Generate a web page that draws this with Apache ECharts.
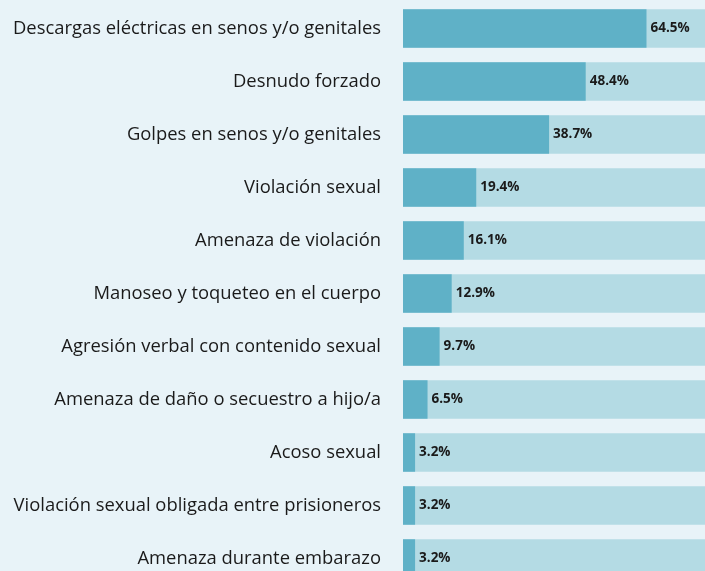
<!DOCTYPE html>
<html>
<head>
<meta charset="utf-8">
<script src="https://cdn.jsdelivr.net/npm/echarts@6/dist/echarts.min.js"></script>
<style>
  html, body { margin: 0; padding: 0; background: #e8f3f8; }
  #main { width: 705px; height: 571px; }
</style>
</head>
<body>
<div id="main"></div>
<script>
// categorías y porcentajes
var categories = [
  'Descargas eléctricas en senos y/o genitales',
  'Desnudo forzado',
  'Golpes en senos y/o genitales',
  'Violación sexual',
  'Amenaza de violación',
  'Manoseo y toqueteo en el cuerpo',
  'Agresión verbal con contenido sexual',
  'Amenaza de daño o secuestro a hijo/a',
  'Acoso sexual',
  'Violación sexual obligada entre prisioneros',
  'Amenaza durante embarazo'
];
var values = [64.5, 48.4, 38.7, 19.4, 16.1, 12.9, 9.7, 6.5, 3.2, 3.2, 3.2];

var myChart = echarts.init(document.getElementById('main'));

var option = {
  backgroundColor: '#e8f3f8',
  animation: false,
  grid: {
    left: 403,
    right: 0,
    top: 2,
    height: 583,
    outerBoundsMode: 'none'
  },
  xAxis: {
    type: 'value',
    min: 0,
    max: 80,
    show: false
  },
  yAxis: {
    type: 'category',
    data: categories,
    inverse: true,
    axisLine: { show: false },
    axisTick: { show: false },
    axisLabel: {
      margin: 22,
      color: '#1a1a1a',
      fontFamily: 'Open Sans',
      fontSize: 18.4
    }
  },
  series: [{
    type: 'bar',
    data: values,
    barWidth: 38.5,
    itemStyle: { color: '#5fb1c7' },
    showBackground: true,
    backgroundStyle: { color: '#b4dbe4' },
    label: {
      show: true,
      position: 'right',
      distance: 4,
      formatter: function (p) { return p.value.toFixed(1) + '%'; },
      color: '#1a1a1a',
      fontFamily: 'Open Sans',
      fontWeight: 'bold',
      fontSize: 13.5
    }
  }]
};

myChart.setOption(option);
</script>
</body>
</html>
